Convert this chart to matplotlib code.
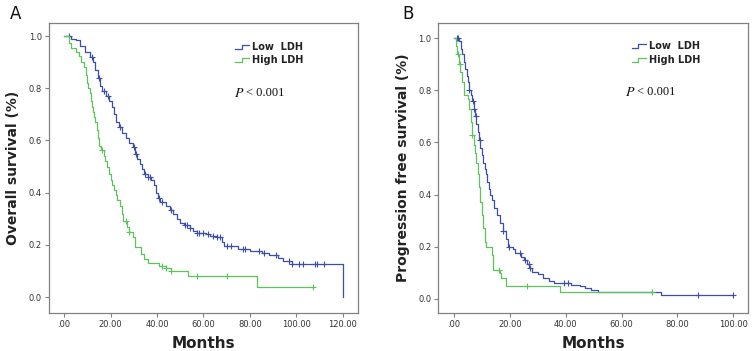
import numpy as np
import matplotlib
matplotlib.use("Agg")
import matplotlib.pyplot as plt

# ---------------- data ----------------
# Panel A: overall survival
a_low_t = [0, 3.2, 5.0, 7.0, 9.0, 11.0, 12.5, 13.5, 14.5, 15.5, 16.5, 18.0, 19.5, 20.5, 21.5, 22.5,
           23.5, 25.0, 26.5, 28.0, 29.5, 30.5, 31.5, 32.5, 33.5, 34.5, 36.0, 37.5, 38.5, 39.5, 40.5,
           41.5, 44.0, 45.5, 47.0, 48.5, 50.0, 51.5, 54.0, 55.5, 57.0, 61.0, 63.0, 66.0, 68.0, 69.0,
           75.0, 80.0, 85.0, 88.0, 92.0, 94.0, 98.0, 120.0]
a_low_s = [1.0, 0.99, 0.985, 0.96, 0.94, 0.92, 0.90, 0.87, 0.84, 0.81, 0.79, 0.77, 0.75, 0.73, 0.70, 0.67,
           0.65, 0.63, 0.61, 0.59, 0.575, 0.55, 0.53, 0.51, 0.49, 0.47, 0.46, 0.45, 0.43, 0.40, 0.38,
           0.365, 0.35, 0.335, 0.32, 0.30, 0.285, 0.275, 0.265, 0.255, 0.245, 0.24, 0.235, 0.23, 0.21, 0.195,
           0.185, 0.175, 0.17, 0.16, 0.15, 0.14, 0.128, 0.0]
a_low_cens = [2, 12, 15, 17, 19, 24, 30, 31, 35, 36, 37, 41, 42, 46, 52, 53, 54, 57, 58, 60, 62, 64,
              66, 67, 70, 72, 77, 78, 84, 86, 91, 97, 98, 101, 103, 108, 109, 112]

a_high_t = [0, 2.0, 3.0, 5.0, 6.5, 7.5, 8.5, 9.5, 10.0, 10.5, 11.0, 11.5, 12.0, 12.5, 13.0, 13.5, 14.0,
            14.5, 15.0, 16.0, 17.0, 17.5, 18.5, 19.5, 20.0, 20.5, 21.5, 22.5, 23.0, 24.0, 25.0, 25.5,
            27.0, 28.0, 29.5, 30.5, 33.0, 34.5, 36.0, 41.0, 44.0, 46.0, 53.5, 83.0, 107.0]
a_high_s = [1.0, 0.975, 0.955, 0.94, 0.925, 0.90, 0.88, 0.85, 0.82, 0.80, 0.78, 0.75, 0.73, 0.71, 0.69, 0.67, 0.64,
            0.61, 0.58, 0.565, 0.54, 0.52, 0.50, 0.47, 0.45, 0.43, 0.41, 0.39, 0.37, 0.35, 0.32, 0.29,
            0.27, 0.25, 0.23, 0.19, 0.165, 0.145, 0.13, 0.12, 0.11, 0.10, 0.08, 0.04, 0.04]
a_high_cens = [16.5, 26.5, 28.0, 42.0, 44.0, 46.0, 57.0, 70.0, 107.0]

# Panel B: progression free survival
b_low_t = [0, 1.8, 2.5, 3.0, 3.5, 4.0, 4.5, 5.0, 5.5, 6.0, 6.5, 7.0, 7.5, 8.0, 8.5, 9.0, 9.5, 10.0,
           10.5, 11.0, 11.5, 12.0, 12.5, 13.0, 13.5, 14.5, 15.5, 16.5, 17.5, 18.5, 19.5, 21.0, 22.0,
           24.0, 25.0, 26.0, 27.0, 28.0, 30.0, 32.0, 34.0, 36.0, 42.0, 45.0, 47.0, 49.0, 51.5, 74.0, 100.0]
b_low_s = [1.0, 0.99, 0.96, 0.94, 0.91, 0.88, 0.855, 0.83, 0.80, 0.78, 0.76, 0.73, 0.70, 0.67, 0.64, 0.61, 0.58, 0.55,
           0.52, 0.50, 0.48, 0.45, 0.42, 0.40, 0.38, 0.35, 0.32, 0.29, 0.26, 0.23, 0.20, 0.19, 0.175,
           0.16, 0.15, 0.135, 0.12, 0.105, 0.095, 0.08, 0.07, 0.06, 0.055, 0.05, 0.04, 0.035, 0.025, 0.015, 0.015]
b_low_cens = [1.2, 1.6, 5.5, 6.8, 7.2, 7.8, 9.4, 17.7, 19.8, 23.8, 25.5, 26.8, 27.2, 39.5, 41.0, 87.3, 99.8]

b_high_t = [0, 0.8, 1.2, 1.8, 2.2, 2.8, 3.5, 5.0, 5.5, 6.0, 6.5, 7.0, 7.5, 8.0, 8.5, 9.0, 9.5, 10.0,
            10.5, 11.0, 11.5, 13.5, 14.0, 16.5, 17.0, 18.5, 38.0, 71.0]
b_high_s = [1.0, 0.97, 0.94, 0.90, 0.87, 0.83, 0.78, 0.765, 0.73, 0.68, 0.63, 0.59, 0.56, 0.52, 0.48, 0.43, 0.37, 0.32,
            0.27, 0.22, 0.20, 0.17, 0.11, 0.10, 0.08, 0.05, 0.025, 0.025]
b_high_cens = [1.6, 2.0, 6.6, 16.0, 26.0, 71.0]

a_xticks = [0, 20, 40, 60, 80, 100, 120]
b_xticks = [0, 20, 40, 60, 80, 100]
yticks = [0.0, 0.2, 0.4, 0.6, 0.8, 1.0]
legend_labels = ["Low  LDH", "High LDH"]
p_text = "0.001"

BLUE = "#3d4ea8"
GREEN = "#5cc45c"
FRAME = "#808080"

plt.rcParams["mathtext.fontset"] = "stix"

fig = plt.figure(figsize=(7.53, 3.51), dpi=100)
axA = fig.add_axes([0.0651, 0.1083, 0.4104, 0.8262])
axB = fig.add_axes([0.5821, 0.1083, 0.4113, 0.8262])


def surv_at(t_list, s_list, t):
    idx = np.searchsorted(np.array(t_list), t, side="right") - 1
    return np.array(s_list)[idx]


def draw_km(ax, t, s, cens, color):
    ax.step(t, s, where="post", color=color, lw=0.9)
    cy = [surv_at(t, s, c) for c in cens]
    ax.plot(cens, cy, linestyle="none", marker="+", ms=4.5, mew=0.8, color=color)


def style(ax, xticks, xlim, ylim, ylabel, letter, letter_x, leg_x, leg_y, p_pos):
    ax.set_xlim(*xlim)
    ax.set_ylim(*ylim)
    ax.set_xticks(xticks)
    ax.set_xticklabels([".00" if v == 0 else f"{v:.2f}" for v in xticks])
    ax.set_yticks(yticks)
    ax.set_yticklabels([f"{v:.1f}" for v in yticks])
    ax.tick_params(axis="both", direction="out", length=3, width=0.8, color=FRAME,
                   labelsize=6, labelcolor="#333333", pad=2)
    for sp in ax.spines.values():
        sp.set_color(FRAME)
        sp.set_linewidth(0.9)
    ax.set_xlabel("Months", fontsize=11, fontweight="semibold", color="#222222", labelpad=5)
    ax.set_ylabel(ylabel, fontsize=10, fontweight="semibold", color="#222222", labelpad=6)
    ax.text(letter_x, 1.031, letter, transform=ax.transAxes, fontsize=12, ha="left", va="center",
            color="#111111")
    # legend with step icons
    for i, (lab, col) in enumerate(zip(legend_labels, [BLUE, GREEN])):
        y = leg_y[i]
        x0 = leg_x
        ax.plot([x0, x0 + 0.022, x0 + 0.022, x0 + 0.045], [y - 0.007, y - 0.007, y + 0.007, y + 0.007],
                transform=ax.transAxes, color=col, lw=0.9, clip_on=False)
        ax.text(x0 + 0.055, y, lab, transform=ax.transAxes, fontsize=7, fontweight="semibold",
                va="center", ha="left", color="#222222")
    ax.text(p_pos[0], p_pos[1], r"$P$", transform=ax.transAxes, fontsize=10,
            va="center", ha="left", color="#111111")
    ax.text(p_pos[0] + 0.038, p_pos[1], "< " + p_text, transform=ax.transAxes, fontsize=9,
            family="Liberation Serif", va="center", ha="left", color="#111111")


draw_km(axA, a_low_t, a_low_s, a_low_cens, BLUE)
draw_km(axA, a_high_t, a_high_s, a_high_cens, GREEN)
draw_km(axB, b_low_t, b_low_s, b_low_cens, BLUE)
draw_km(axB, b_high_t, b_high_s, b_high_cens, GREEN)

style(axA, a_xticks, (-6.45, 126.5), (-0.061, 1.05), "Overall survival (%)", "A", -0.126,
      0.602, [0.917, 0.872], (0.600, 0.759))
style(axB, b_xticks, (-5.6, 105.3), (-0.054, 1.058), "Progression free survival (%)", "B", -0.116,
      0.624, [0.921, 0.872], (0.603, 0.762))

fig.savefig("out.png", dpi=100)
